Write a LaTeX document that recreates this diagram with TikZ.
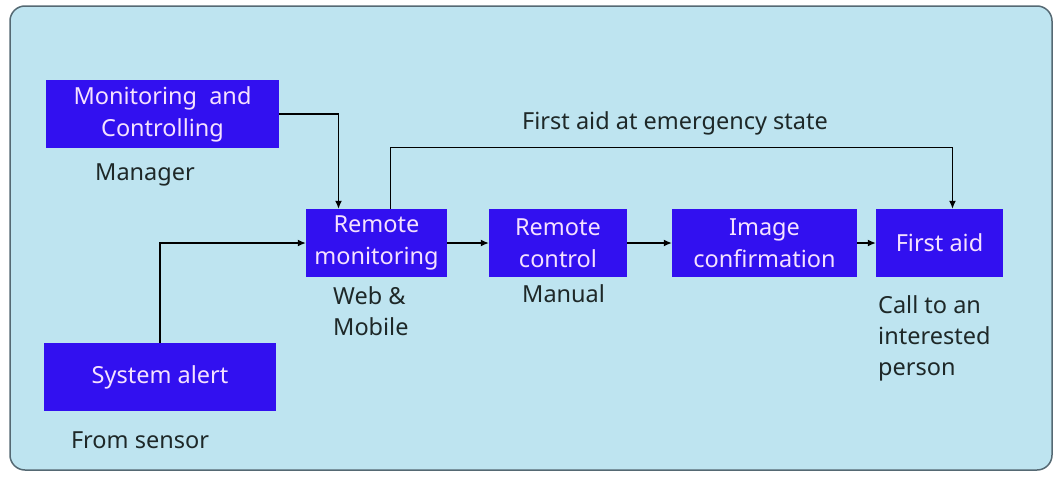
\documentclass[tikz,border=0pt]{standalone}
\usepackage{fontspec}
\setmainfont{Noto Sans}
\usetikzlibrary{arrows.meta, positioning}
\definecolor{boxblue}{RGB}{50, 16, 240}
\definecolor{boxtext}{RGB}{245, 225, 255}
\definecolor{panel}{RGB}{190, 228, 240}
\definecolor{frame}{RGB}{85, 105, 115}
\definecolor{notegrey}{RGB}{30, 40, 40}

\begin{document}
\begin{tikzpicture}[x=1pt, y=-1pt,
  pbox/.style={fill=boxblue, text=boxtext, align=center, inner sep=0pt, minimum height=68pt, font=\fontsize{23.5}{32}\selectfont},
  note/.style={text=notegrey, align=left, inner sep=0pt, font=\fontsize{23.5}{31}\selectfont},
  flow/.style={-{Latex[length=8pt, width=7pt]}, line width=1.3pt, black}
]
  \useasboundingbox (0,0) rectangle (1061,479);
  \draw[frame, fill=panel, line width=1.5pt, rounded corners=15pt] (10,6) rectangle (1052,470);

  % blocks
  \node[pbox, minimum width=233pt] (mon) at (162.5,114) {Monitoring\ \ and\\Controlling};
  \node[pbox, minimum width=232pt] (alert) at (160,377) {System alert};
  \node[pbox, minimum width=141pt] (rmon) at (376.5,243) {Remote\\monitoring};
  \node[pbox, minimum width=138pt] (rctl) at (558,243) {Remote\\control};
  \node[pbox, minimum width=185pt] (img) at (764.5,243) {Image\\confirmation};
  \node[pbox, minimum width=127pt] (fa) at (939.5,243) {First aid};

  % labels
  \node[note] (lman) at (145,175) {Manager};
  \node[note] (lsens) at (140,440) {From sensor};
  \node[note, anchor=north west] (lweb) at (333,286) {Web \&\\Mobile};
  \node[note, anchor=north west] (lmanual) at (522,284) {Manual};
  \node[note, anchor=north west] (lcall) at (878,295) {Call to an\\interested\\person};
  \node[note] (lemerg) at (675,123) {First aid at emergency state};

  % connectors
  \draw[flow] (mon.east) -| ([xshift=-38pt]rmon.north);
  \draw[flow] (alert.north) |- (rmon.west);
  \draw[flow] ([xshift=14pt]rmon.north) -- ++(0,-61) -| ([xshift=13pt]fa.north);
  \draw[flow] (rmon) -- (rctl);
  \draw[flow] (rctl) -- (img);
  \draw[flow] (img) -- (fa);
\end{tikzpicture}
\end{document}
